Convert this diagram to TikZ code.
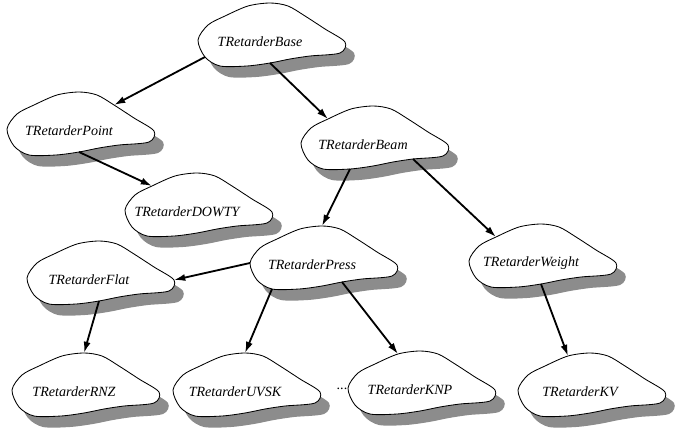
\documentclass[tikz,border=0pt]{standalone}
\usepackage{fontspec}
\setmainfont{Liberation Serif}
\usetikzlibrary{arrows.meta}

\tikzset{
	blob shade/.style = {fill = black!45},
	blob text/.style = {font = \itshape, inner sep = 0pt},
	link/.style = {->, line width = 1.3pt},
	blob/.pic = {
		\fill [blob shade, shift = {(9, 11)}] plot [smooth cycle] coordinates {
			(-62, -2) (-52, -17) (-35, -26) (-12, -36) (10, -39) (28, -36) (45, -26) (65, -13)
			(85, 0) (80, 11) (50, 14) (30, 17) (10, 21) (-13, 24) (-40, 24) (-55, 15)};
		\draw [fill = white, line width = 0.6pt] plot [smooth cycle] coordinates {
			(-62, -2) (-52, -17) (-35, -26) (-12, -36) (10, -39) (28, -36) (45, -26) (65, -13)
			(85, 0) (80, 11) (50, 14) (30, 17) (10, 21) (-13, 24) (-40, 24) (-55, 15)};
		\coordinate (-w) at (-62, -2);
		\coordinate (-nw) at (-35, -26);
		\coordinate (-nnw) at (-12, -36);
		\coordinate (-n) at (10, -39);
		\coordinate (-ne) at (45, -26);
		\coordinate (-e) at (85, 0);
		\coordinate (-se) at (50, 14);
		\coordinate (-sse) at (30, 17);
		\coordinate (-s) at (10, 21);
		\coordinate (-ssw) at (-13, 24);
		\coordinate (-sw) at (-40, 24);
		\coordinate (-wsw) at (-55, 15);
		\node [blob text] (-t) at (0, 0) {#1};
	}
}

\begin{document}
\begin{tikzpicture}[x = 0.025cm, y = -0.025cm, > = {Latex[length = 8pt, width = 5pt]}]

	\useasboundingbox (0, 0) rectangle (688, 432);

	% Classes

	\pic (base) at (260, 42) {blob = TRetarderBase};
	\pic (point) at (69, 131) {blob = TRetarderPoint};
	\pic (beam) at (363, 145) {blob = TRetarderBeam};
	\pic (dowty) at (187, 212) {blob = TRetarderDOWTY};
	\pic (flat) at (89, 280) {blob = TRetarderFlat};
	\pic (press) at (312, 265) {blob = TRetarderPress};
	\pic (weight) at (531, 263) {blob = TRetarderWeight};
	\pic (rnz) at (74, 392) {blob = TRetarderRNZ};
	\pic (uvsk) at (235, 392) {blob = TRetarderUVSK};
	\pic (knp) at (410, 390) {blob = TRetarderKNP};
	\pic (kv) at (580, 392) {blob = TRetarderKV};

	\node [blob text, font = \normalfont] (dots) at (342, 389) {...};

	% Inheritance

	\draw [link] (base-wsw) -- (point-ne);
	\draw [link] (base-s) -- (beam-nw);
	\draw [link] (point-s) -- (dowty-nw);
	\draw [link] (beam-ssw) -- (press-n);
	\draw [link] (beam-se) -- (weight-nw);
	\draw [link] (press-w) -- (flat-e);
	\draw [link] (flat-s) -- (rnz-n);
	\draw [link] (press-sw) -- (uvsk-n);
	\draw [link] (press-sse) -- (knp-nnw);
	\draw [link] (weight-s) -- (kv-nnw);

\end{tikzpicture}
\end{document}
